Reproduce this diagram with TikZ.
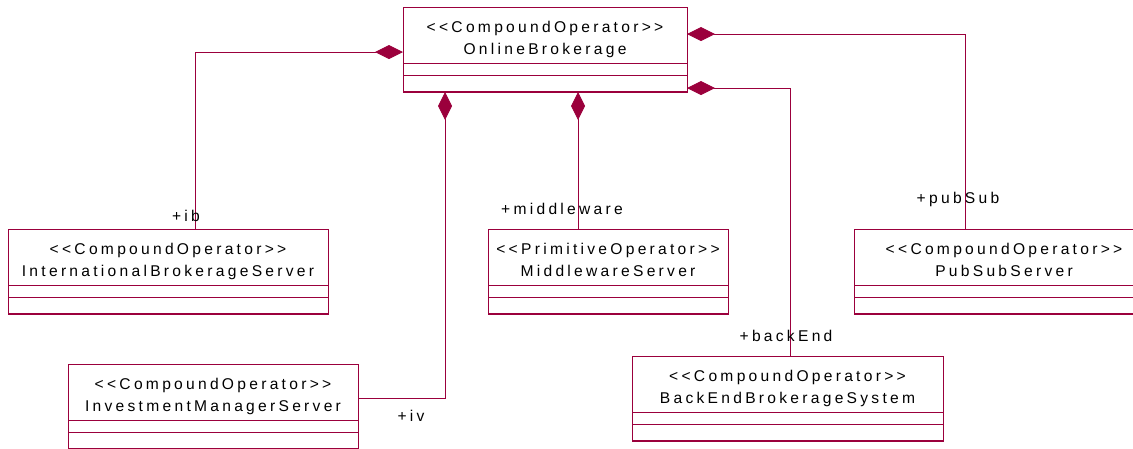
\documentclass[tikz,border=0pt]{standalone}
\usepackage{fontspec}
\setmainfont{Liberation Sans}[LetterSpace=21,Ligatures=TeXOff]
\usetikzlibrary{arrows.meta,calc}
\definecolor{umlred}{RGB}{155,0,60}
\newcommand\umlclassbox[6]{%
  % #1 name, #2 left, #3 top, #4 width, #5 stereotype, #6 class name
  \node[clsbox, minimum width=#4, anchor=north west] (#1) at (#2,#3) {};
  \draw[clsline] ($(#1.north west)+(0,56)$) -- ($(#1.north east)+(0,56)$);
  \draw[clsline] ($(#1.north west)+(0,68)$) -- ($(#1.north east)+(0,68)$);
  \draw[umlred, line width=1.8pt] ($(#1.south west)+(0,-0.5)$) -- ($(#1.south east)+(0,-0.5)$);
  \node[clstext] (#1-st) at ($(#1.north)+(0,25)$) {#5};
  \node[clstext] (#1-nm) at ($(#1.north)+(0,47)$) {#6};
}
\begin{document}
\begin{tikzpicture}[x=1pt,y=-1pt,
  every node/.style={font=\fontsize{15.6}{18}\selectfont, text=black},
  clsbox/.style={draw=umlred, line width=1pt, fill=white, minimum height=85pt, inner sep=0pt, outer sep=0pt},
  clsline/.style={draw=umlred, line width=0.8pt},
  clstext/.style={anchor=base, inner sep=0pt},
  lbl/.style={anchor=base, inner sep=0pt},
  comp/.style={draw=umlred, line width=0.9pt, {Diamond[length=28pt,width=14pt,fill=umlred]}-},
]
\useasboundingbox (0,0) rectangle (1133,448);

\umlclassbox{ob}{403}{7}{284}{<<CompoundOperator>>}{OnlineBrokerage}
\umlclassbox{ib}{8}{229}{320}{<<CompoundOperator>>}{InternationalBrokerageServer}
\umlclassbox{mw}{488}{229}{240}{<<PrimitiveOperator>>}{MiddlewareServer}
\umlclassbox{ps}{854}{229}{300}{<<CompoundOperator>>}{PubSubServer}
\umlclassbox{be}{632}{356}{311}{<<CompoundOperator>>}{BackEndBrokerageSystem}
\umlclassbox{im}{68}{364}{290}{<<CompoundOperator>>}{InvestmentManagerServer}

% connector end coordinates on the aggregate
\coordinate (obL) at ($(ob.north west)+(0,45)$);
\coordinate (obR1) at ($(ob.north east)+(0,27)$);
\coordinate (obR2) at ($(ob.north east)+(0,81)$);
\coordinate (obB1) at ($(ob.south west)+(42,0)$);
\coordinate (obB2) at ($(ob.south west)+(175,0)$);

\coordinate (ibT) at ($(ib.north west)+(187,0)$);
\coordinate (mwT) at ($(mw.north west)+(90,0)$);
\coordinate (psT) at ($(ps.north west)+(111,0)$);
\coordinate (beT) at ($(be.north west)+(158,0)$);
\coordinate (imR) at ($(im.north east)+(0,34)$);

\draw[comp] (obL) -| (ibT);
\draw[comp] (obB2) -- (mwT);
\draw[comp] (obR1) -| (psT);
\draw[comp] (obR2) -| (beT);
\draw[comp] (obB1) |- (imR);

\node[lbl] (l-ib) at (186,221) {+ib};
\node[lbl] (l-mw) at (562,214) {+middleware};
\node[lbl] (l-ps) at (958,203) {+pubSub};
\node[lbl] (l-be) at (786,341) {+backEnd};
\node[lbl] (l-iv) at (411,421) {+iv};
\end{tikzpicture}
\end{document}
